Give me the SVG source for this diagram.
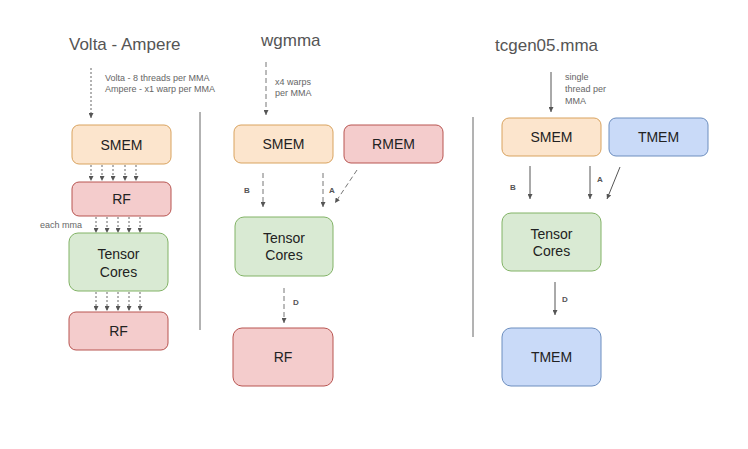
<svg xmlns="http://www.w3.org/2000/svg" width="748" height="449" viewBox="0 0 748 449">
<style>
text{font-family:"Liberation Sans",Arial,sans-serif}
.title{font-size:17px;fill:#555}
.lbl{font-size:14px;fill:#222;text-anchor:middle}
.note{font-size:9px;fill:#666}
.tag{font-size:8px;font-weight:bold;fill:#555}
.smem{fill:#fce5cd;stroke:#d9a35f;stroke-width:1}
.rf{fill:#f4cccc;stroke:#b85450;stroke-width:1}
.tc{fill:#d9ead3;stroke:#82b366;stroke-width:1}
.tm{fill:#c9daf8;stroke:#6c8ebf;stroke-width:1}
.d1{stroke:#666;stroke-width:1;stroke-dasharray:2,2;fill:none;marker-end:url(#ah)}
.d2{stroke:#777;stroke-width:1;stroke-dasharray:5,3;fill:none;marker-end:url(#ah)}
.s{stroke:#555;stroke-width:1;fill:none;marker-end:url(#ah)}
.div{stroke:#666;stroke-width:1}
</style>
<defs>
<marker id="ah" viewBox="0 0 6 6" refX="6" refY="3" markerWidth="5" markerHeight="5" orient="auto" markerUnits="userSpaceOnUse">
<path d="M0,0 L6,3 L0,6 z" fill="#555"/>
</marker>
</defs>
<rect width="748" height="449" fill="#fff"/>
<text class="title" x="69" y="50">Volta - Ampere</text>
<text class="title" x="261" y="46">wgmma</text>
<text class="title" x="495" y="51">tcgen05.mma</text>
<text class="note" x="105" y="81">Volta - 8 threads per MMA</text>
<text class="note" x="105" y="92">Ampere - x1 warp per MMA</text>
<text class="note" x="40" y="228">each mma</text>
<text class="note" x="275" y="85">x4 warps</text>
<text class="note" x="275" y="96">per MMA</text>
<text class="note" x="565" y="80">single</text>
<text class="note" x="565" y="92">thread per</text>
<text class="note" x="565" y="104">MMA</text>
<line class="div" x1="200" y1="112" x2="200" y2="330"/>
<line class="div" x1="473" y1="117" x2="473" y2="337"/>
<g id="connectors">
<line class="d1" x1="91" y1="68" x2="91" y2="118"/>
<line class="d1" x1="91" y1="165" x2="91" y2="181"/>
<line class="d1" x1="102" y1="165" x2="102" y2="181"/>
<line class="d1" x1="113" y1="165" x2="113" y2="181"/>
<line class="d1" x1="125" y1="165" x2="125" y2="181"/>
<line class="d1" x1="136" y1="165" x2="136" y2="181"/>
<line class="d1" x1="96" y1="217" x2="96" y2="233"/>
<line class="d1" x1="107" y1="217" x2="107" y2="233"/>
<line class="d1" x1="118" y1="217" x2="118" y2="233"/>
<line class="d1" x1="129" y1="217" x2="129" y2="233"/>
<line class="d1" x1="140" y1="217" x2="140" y2="233"/>
<line class="d1" x1="96" y1="292" x2="96" y2="311"/>
<line class="d1" x1="107" y1="292" x2="107" y2="311"/>
<line class="d1" x1="118" y1="292" x2="118" y2="311"/>
<line class="d1" x1="129" y1="292" x2="129" y2="311"/>
<line class="d1" x1="140" y1="292" x2="140" y2="311"/>
<line class="d2" x1="266" y1="62" x2="266" y2="115"/>
<line class="d2" x1="263" y1="173" x2="263" y2="207"/>
<line class="d2" x1="323" y1="173" x2="323" y2="207"/>
<line class="d2" x1="357" y1="170" x2="335" y2="203"/>
<line class="d2" x1="284" y1="288" x2="284" y2="323"/>
<line class="s" x1="551" y1="72" x2="551" y2="112"/>
<line class="s" x1="530" y1="166" x2="530" y2="199"/>
<line class="s" x1="590" y1="166" x2="590" y2="199"/>
<line class="s" x1="620" y1="167" x2="607" y2="199"/>
<line class="s" x1="555" y1="282" x2="555" y2="315"/>
<text class="tag" x="244" y="193">B</text>
<text class="tag" x="329" y="193">A</text>
<text class="tag" x="293" y="305">D</text>
<text class="tag" x="510" y="190">B</text>
<text class="tag" x="597" y="182">A</text>
<text class="tag" x="562" y="302">D</text>
</g>
<g id="va-smem"><rect class="smem" x="72" y="125" width="99" height="39" rx="7"/><text class="lbl" x="121.5" y="149.5">SMEM</text></g>
<g id="va-rf1"><rect class="rf" x="72" y="182" width="99" height="34" rx="7"/><text class="lbl" x="121.5" y="204">RF</text></g>
<g id="va-tc"><rect class="tc" x="69" y="233" width="99" height="58" rx="9"/><text class="lbl" x="118.5" y="259">Tensor</text><text class="lbl" x="118.5" y="277">Cores</text></g>
<g id="va-rf2"><rect class="rf" x="69" y="312" width="99" height="38" rx="7"/><text class="lbl" x="118.5" y="336">RF</text></g>
<g id="wg-smem"><rect class="smem" x="234" y="125" width="99" height="38" rx="7"/><text class="lbl" x="283.5" y="149">SMEM</text></g>
<g id="wg-rmem"><rect class="rf" x="344" y="125" width="99" height="38" rx="7"/><text class="lbl" x="393.5" y="149">RMEM</text></g>
<g id="wg-tc"><rect class="tc" x="235" y="217" width="98" height="59" rx="9"/><text class="lbl" x="284" y="243">Tensor</text><text class="lbl" x="284" y="260">Cores</text></g>
<g id="wg-rf"><rect class="rf" x="233" y="328" width="100" height="58" rx="9"/><text class="lbl" x="283" y="362">RF</text></g>
<g id="tc-smem"><rect class="smem" x="502" y="118" width="99" height="38" rx="7"/><text class="lbl" x="551.5" y="142">SMEM</text></g>
<g id="tc-tmem1"><rect class="tm" x="609" y="118" width="99" height="38" rx="7"/><text class="lbl" x="658.5" y="142">TMEM</text></g>
<g id="tc-tc"><rect class="tc" x="502" y="213" width="99" height="58" rx="9"/><text class="lbl" x="551.5" y="239">Tensor</text><text class="lbl" x="551.5" y="256">Cores</text></g>
<g id="tc-tmem2"><rect class="tm" x="502" y="328" width="99" height="58" rx="9"/><text class="lbl" x="551.5" y="362">TMEM</text></g>
</svg>
